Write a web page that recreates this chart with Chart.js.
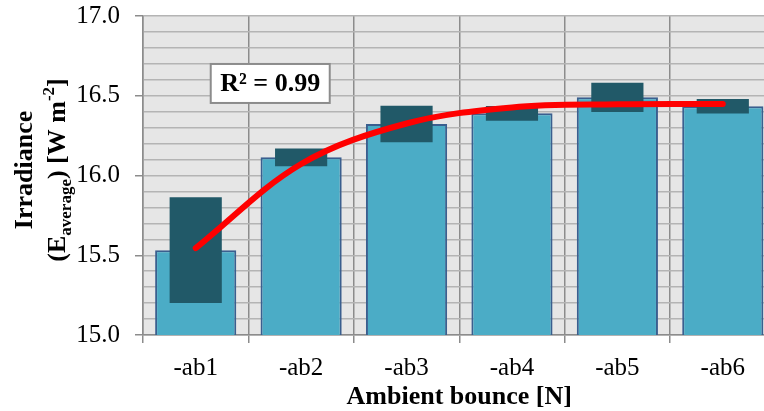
<!DOCTYPE html>
<html>
<head>
<meta charset="utf-8">
<script src="https://cdn.jsdelivr.net/npm/chart.js@4.4.0/dist/chart.umd.min.js"></script>
<style>
  html, body { margin: 0; padding: 0; background: #fff; overflow: hidden; }
  #wrap { width: 764px; height: 411px; overflow: hidden; }
</style>
</head>
<body>
<div id="wrap"><canvas id="irrChart" width="790" height="411"></canvas></div>
<script>
// Data
const categories = ['-ab1', '-ab2', '-ab3', '-ab4', '-ab5', '-ab6'];
const irradiance = [15.532, 16.114, 16.323, 16.390, 16.490, 16.434];
const spread = [0.332, 0.056, 0.114, 0.046, 0.092, 0.046];   // half height of the dark boxes
const trend = [15.545, 16.072, 16.326, 16.427, 16.446, 16.448];
const yTicks = [15.0, 15.5, 16.0, 16.5, 17.0];
const rSquared = 'R² = 0.99';

const serif = "'Liberation Serif', 'Times New Roman', serif";

// floating bars for the dark boxes
const ranges = irradiance.map((v, i) => [v - spread[i], v + spread[i]]);

function isMajor(value) {
    return yTicks.some(t => Math.abs(t - value) < 1e-6);
}

// grey plot background
const plotBackground = {
    id: 'plotBackground',
    beforeDraw(chart) {
        const { ctx, chartArea: a } = chart;
        ctx.save();
        ctx.fillStyle = '#e6e6e6';
        ctx.fillRect(a.left, a.top, a.right - a.left, a.bottom - a.top);
        ctx.restore();
    }
};

// y axis title (with sub/superscript) and the R² box
const extras = {
    id: 'extras',
    afterDraw(chart) {
        const ctx = chart.ctx;
        const big = 'bold 26px ' + serif;
        const small = 'bold 17px ' + serif;

        ctx.save();
        ctx.fillStyle = '#000';
        ctx.textBaseline = 'alphabetic';

        // line 1
        ctx.save();
        ctx.translate(32, 170);
        ctx.rotate(-Math.PI / 2);
        ctx.font = big;
        ctx.textAlign = 'center';
        ctx.fillText('Irradiance', 0, 0);
        ctx.restore();

        // line 2: (E_average) [W m^-2]
        const parts = [
            { t: '(E', f: big, dy: 0 },
            { t: 'average', f: small, dy: 6 },
            { t: ') [W m', f: big, dy: 0 },
            { t: '-2', f: small, dy: -11 },
            { t: ']', f: big, dy: 0 }
        ];
        let total = 0;
        parts.forEach(p => { ctx.font = p.f; p.w = ctx.measureText(p.t).width; total += p.w; });
        ctx.save();
        ctx.translate(65, 170);
        ctx.rotate(-Math.PI / 2);
        ctx.textAlign = 'left';
        let x = -total / 2;
        parts.forEach(p => {
            ctx.font = p.f;
            ctx.fillText(p.t, x, p.dy);
            x += p.w;
        });
        ctx.restore();

        // R² label box
        const xs = chart.scales.x, ys = chart.scales.y;
        const cx = xs.getPixelForValue(0.707);
        const cy = ys.getPixelForValue(16.577);
        const w = 119, h = 39;
        ctx.fillStyle = '#fff';
        ctx.fillRect(cx - w / 2, cy - h / 2, w, h);
        ctx.strokeStyle = '#8c8c8c';
        ctx.lineWidth = 2;
        ctx.strokeRect(cx - w / 2, cy - h / 2, w, h);
        ctx.fillStyle = '#000';
        ctx.font = big;
        ctx.textAlign = 'center';
        ctx.textBaseline = 'middle';
        ctx.fillText(rSquared, cx, cy + 1);
        ctx.restore();
    }
};

new Chart(document.getElementById('irrChart'), {
    type: 'bar',
    data: {
        labels: categories,
        datasets: [
            {
                type: 'line',
                data: trend,
                borderColor: '#ff0000',
                borderWidth: 6,
                borderCapStyle: 'round',
                pointRadius: 0,
                tension: 0.35,
                order: 1
            },
            {
                data: ranges,
                backgroundColor: '#215968',
                borderWidth: 0,
                grouped: false,
                categoryPercentage: 1,
                barPercentage: 0.495,
                order: 2
            },
            {
                data: irradiance,
                backgroundColor: '#4bacc6',
                borderColor: '#3a5f8f',
                borderWidth: 2,
                borderSkipped: 'bottom',
                grouped: false,
                categoryPercentage: 1,
                barPercentage: 0.77,
                order: 3
            }
        ]
    },
    options: {
        responsive: false,
        animation: false,
        layout: { padding: { top: 16, left: 0, right: 14.5, bottom: 0 } },
        plugins: {
            legend: { display: false },
            tooltip: { enabled: false }
        },
        scales: {
            x: {
                offset: true,
                grid: { color: '#8c8c8c', lineWidth: 1.5, offset: true, tickLength: 8 },
                border: { color: '#8c8c8c', width: 1.5 },
                ticks: { color: '#000', font: { family: serif, size: 25 }, padding: 10 },
                title: {
                    display: true,
                    text: 'Ambient bounce [N]',
                    color: '#000',
                    font: { family: serif, size: 26, weight: 'bold' },
                    padding: { top: 0, bottom: -2 }
                },
                afterFit(scale) { scale.height = 76; }
            },
            y: {
                min: 15,
                max: 17,
                ticks: {
                    stepSize: 0.1,
                    autoSkip: false,
                    color: '#000',
                    font: { family: serif, size: 25 },
                    padding: 15,
                    callback: v => isMajor(v) ? v.toFixed(1) : ''
                },
                grid: {
                    color: '#b4b4b4',
                    lineWidth: 1.5,
                    tickLength: 8,
                    tickColor: ctx => isMajor(ctx.tick.value) ? '#8c8c8c' : 'rgba(0,0,0,0)'
                },
                border: { color: '#8c8c8c', width: 1.5 },
                afterFit(scale) {
                    scale.width = 143;
                    scale.paddingTop = 0;
                    scale.paddingBottom = 0;
                }
            }
        }
    },
    plugins: [plotBackground, extras]
});
</script>
</body>
</html>
